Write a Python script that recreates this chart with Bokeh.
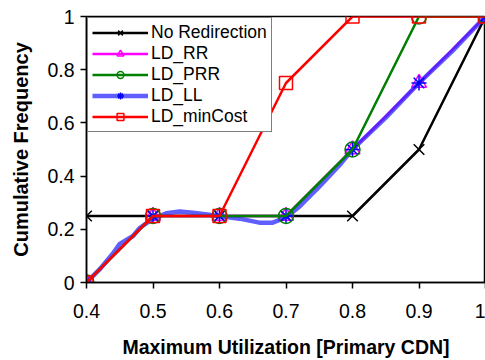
from bokeh.plotting import figure
from bokeh.models import Legend, LegendItem, FixedTicker, CustomJSTickFormatter, Range1d
from bokeh.embed import file_html
from bokeh.resources import INLINE

# data
x = [0.4, 0.5, 0.6, 0.7, 0.8, 0.9, 1.0]
no_redirection = [0.25, 0.25, 0.25, 0.25, 0.25, 0.5, 1.0]
ld_rr = [0.0, 0.25, 0.25, 0.25, 0.5, 0.75, 1.0]
ld_prr = [0.0, 0.25, 0.25, 0.25, 0.5, 1.0, 1.0]
ld_ll = [0.0, 0.25, 0.25, 0.25, 0.5, 0.75, 1.0]
ld_mincost = [0.0, 0.25, 0.25, 0.75, 1.0, 1.0, 1.0]
# LD_LL drawn curve
ll_curve_x = [0.4, 0.42, 0.44, 0.45, 0.47, 0.48, 0.5, 0.52, 0.54, 0.56, 0.6, 0.63, 0.66, 0.68, 0.7, 0.72, 0.75, 0.78, 0.8, 0.85, 0.9, 0.95, 1.0]
ll_curve_y = [0.0, 0.05, 0.11, 0.145, 0.175, 0.205, 0.24, 0.26, 0.267, 0.262, 0.25, 0.24, 0.225, 0.225, 0.245, 0.285, 0.36, 0.44, 0.5, 0.62, 0.75, 0.87, 1.0]
x_ticks = [0.4, 0.5, 0.6, 0.7, 0.8, 0.9, 1.0]
y_ticks = [0, 0.2, 0.4, 0.6, 0.8, 1.0]

FONT = "Liberation Sans"

p = figure(width=485, height=360, output_backend="svg", toolbar_location=None,
           x_range=Range1d(0.4, 1.0), y_range=Range1d(0, 1.0),
           min_border_left=86, min_border_right=0, min_border_top=16, min_border_bottom=78)
p.background_fill_color = "white"
p.border_fill_color = "white"
p.outline_line_color = "black"
p.outline_line_width = 1.5
p.xgrid.visible = False
p.ygrid.visible = False

fmt = CustomJSTickFormatter(code="return Number(tick.toFixed(2)).toString();")
for ax, ticks in ((p.xaxis[0], x_ticks), (p.yaxis[0], y_ticks)):
    ax.ticker = FixedTicker(ticks=ticks)
    ax.formatter = fmt
    ax.minor_tick_line_color = None
    ax.major_tick_in = 0
    ax.major_tick_out = 6
    ax.major_tick_line_width = 1.5
    ax.axis_line_width = 1.5
    ax.axis_line_color = "black"
    ax.major_tick_line_color = "black"
    ax.major_label_text_font = FONT
    ax.major_label_text_font_size = "19.5px"
    ax.major_label_text_color = "black"
    ax.axis_label_text_font = FONT
    ax.axis_label_text_font_style = "bold"
    ax.axis_label_text_color = "black"

p.xaxis.axis_label = "Maximum Utilization [Primary CDN]"
p.yaxis.axis_label = "Cumulative Frequency"
p.xaxis.axis_label_text_font_size = "19.5px"
p.yaxis.axis_label_text_font_size = "20px"
p.xaxis.major_label_standoff = 15
p.xaxis.axis_label_standoff = 15
p.yaxis.major_label_standoff = 6
p.yaxis.axis_label_standoff = 12

lw = 2.5
ms = 15

r_nr_l = p.line(x, no_redirection, line_color="black", line_width=lw)
r_nr_m = p.scatter(x, no_redirection, marker="x", size=ms, line_color="black", line_width=1.5)

r_rr_l = p.line(x, ld_rr, line_color="#ff00ff", line_width=lw)
r_rr_m = p.scatter(x, ld_rr, marker="triangle", size=ms, line_color="#ff00ff", fill_color=None, line_width=1.5)

r_ll_l = p.line(ll_curve_x, ll_curve_y, line_color="#2a2aff", line_width=4.5, line_alpha=0.75)
r_ll_m = p.scatter(x, ld_ll, marker="asterisk", size=ms, line_color="blue", line_width=1.5)

r_prr_l = p.line(x, ld_prr, line_color="green", line_width=lw)
r_prr_m = p.scatter(x, ld_prr, marker="circle", size=ms, line_color="green", fill_color=None, line_width=1.5)

r_mc_l = p.line(x, ld_mincost, line_color="red", line_width=lw)
r_mc_m = p.scatter(x, ld_mincost, marker="square", size=ms - 2, line_color="red", fill_color=None, line_width=1.5)

legend = Legend(items=[
    LegendItem(label="No Redirection", renderers=[r_nr_l, r_nr_m]),
    LegendItem(label="LD_RR", renderers=[r_rr_l, r_rr_m]),
    LegendItem(label="LD_PRR", renderers=[r_prr_l, r_prr_m]),
    LegendItem(label="LD_LL", renderers=[r_ll_l, r_ll_m]),
    LegendItem(label="LD_minCost", renderers=[r_mc_l, r_mc_m]),
], location="top_left")
legend.margin = 1
legend.padding = 4
legend.spacing = 0
legend.glyph_width = 56
legend.glyph_height = 17
legend.label_height = 17
legend.label_standoff = 3
legend.label_text_font = FONT
legend.label_text_font_size = "17.5px"
legend.label_text_color = "black"
legend.border_line_color = "black"
legend.border_line_width = 1.5
legend.background_fill_color = "white"
legend.background_fill_alpha = 1.0
p.add_layout(legend)

open("out.html", "w").write(file_html(p, INLINE))
